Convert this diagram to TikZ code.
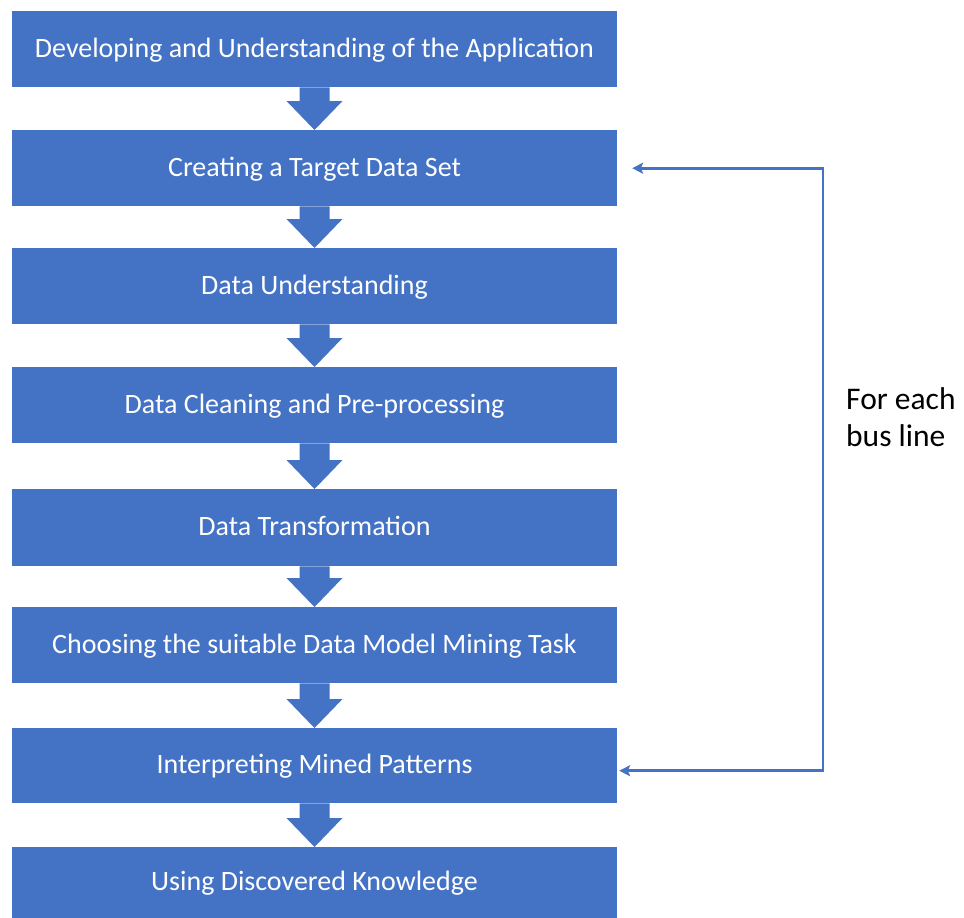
\documentclass[tikz,border=0pt]{standalone}
\usepackage{fontspec}
\setmainfont{Carlito}
\usetikzlibrary{calc,arrows.meta}
\definecolor{boxblue}{HTML}{4472C4}
\tikzset{
  stepbox/.style={fill=boxblue, draw=none, text=white, minimum width=605pt,
    minimum height=76pt, inner sep=0pt, anchor=north,
    text height=22pt, text depth=6pt,
    font=\fontsize{28}{33}\selectfont},
  fbline/.style={draw=boxblue, line width=2.8pt,
    {Stealth[length=11pt,width=11pt,inset=2.5pt]}-{Stealth[length=11pt,width=11pt,inset=2.5pt]}},
}
% block arrow from the bottom of one box to the top of the next
\newcommand{\flowarrow}[2]{%
  \fill[boxblue] ($(#1.south)+(-15,0)$) -- ($(#1.south)+(15,0)$)
    -- ($(#2.north)+(15,-29)$) -- ($(#2.north)+(28,-29)$) -- (#2.north)
    -- ($(#2.north)+(-28,-29)$) -- ($(#2.north)+(-15,-29)$) -- cycle;}
\begin{document}
\begin{tikzpicture}[x=1pt,y=-1pt]
\useasboundingbox (0,0) rectangle (964,918);
\node[stepbox] (b1) at (314.5,11) {Developing and Understanding of the Application};
\node[stepbox] (b2) at (314.5,130) {Creating a Target Data Set};
\node[stepbox] (b3) at (314.5,248) {Data Understanding};
\node[stepbox] (b4) at (314.5,367) {Data Cleaning and Pre-processing};
\node[stepbox, minimum height=77pt] (b5) at (314.5,489) {Data Transformation};
\node[stepbox] (b6) at (314.5,607) {Choosing the suitable Data Model Mining Task};
\node[stepbox, minimum height=75pt] (b7) at (314.5,728) {Interpreting Mined Patterns};
\node[stepbox, minimum height=71pt] (b8) at (314.5,847) {Using Discovered Knowledge};

\flowarrow{b1}{b2}
\flowarrow{b2}{b3}
\flowarrow{b3}{b4}
\flowarrow{b4}{b5}
\flowarrow{b5}{b6}
\flowarrow{b6}{b7}
\flowarrow{b7}{b8}

% feedback loop for each bus line
\coordinate (t1) at ($(b2.east)+(15,0)$);
\coordinate (t2) at ($(b7.east)+(2,5)$);
\coordinate (c1) at (823,0 |- t1);
\coordinate (c2) at (823,0 |- t2);
\draw[fbline] (t1) -- (c1) -- (c2) -- (t2);

\node[anchor=north west, align=left, inner sep=0pt,
  font=\fontsize{31.5}{37}\selectfont] (lbl) at (846,387) {For each\\bus line};
\end{tikzpicture}
\end{document}
